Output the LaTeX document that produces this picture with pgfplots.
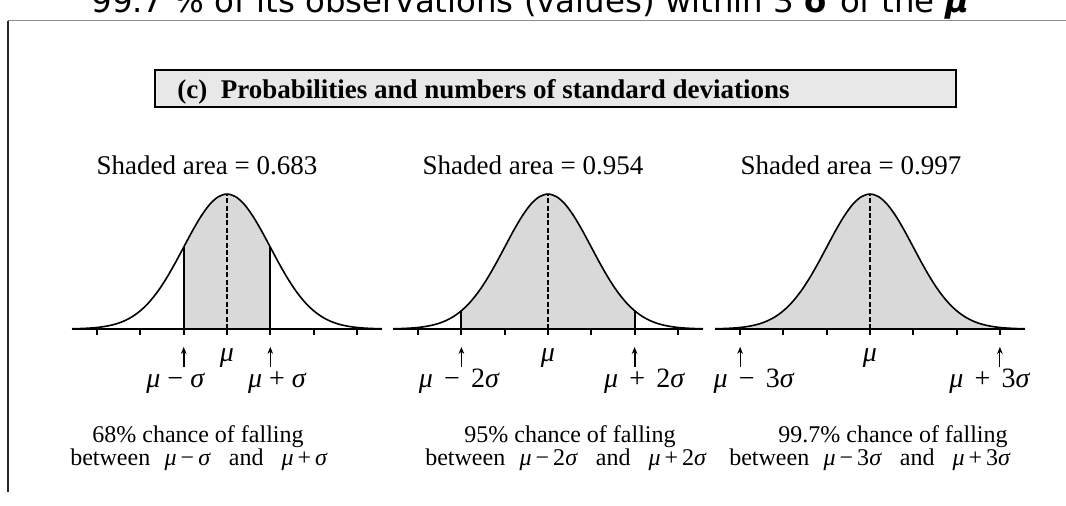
\documentclass[border=0pt]{standalone}
\usepackage{fontspec}
\setmainfont{Liberation Serif}
\newfontfamily\dejavu{DejaVu Sans}
\usepackage{pgfplots}
\pgfplotsset{compat=1.18}
\usepackage{pgfplotstable}
\usetikzlibrary{arrows.meta}

\pgfplotstableread{
x y
-3.58 0.00066
-3.4 0.00123
-3.2 0.00238
-3.0 0.00443
-2.8 0.00792
-2.6 0.01358
-2.4 0.02239
-2.2 0.03547
-2.0 0.05399
-1.8 0.07895
-1.6 0.11092
-1.4 0.14973
-1.2 0.19419
-1.0 0.24197
-0.8 0.28969
-0.6 0.33322
-0.4 0.36827
-0.2 0.39104
0.0 0.39894
0.2 0.39104
0.4 0.36827
0.6 0.33322
0.8 0.28969
1.0 0.24197
1.2 0.19419
1.4 0.14973
1.6 0.11092
1.8 0.07895
2.0 0.05399
2.2 0.03547
2.4 0.02239
2.6 0.01358
2.8 0.00792
3.0 0.00443
3.2 0.00238
3.4 0.00123
3.58 0.00066
}\normaltable

% #1 left x (pt), #2 k, #3 density at k, #4 left arrow width, #5 right arrow width,
% #6 left label, #7 right label, #8 left label shift, #9 right label shift
\newcommand{\normalpanel}[9]{%
\begin{axis}[at={(#1,88.5pt)}, anchor=south west, scale only axis,
  width=155pt, height=67.65pt, xmin=-3.58, xmax=3.58, ymin=0, ymax=0.4,
  axis x line=bottom, axis y line=none, axis line style={-, line width=1pt},
  xtick={-3,-2,-1,0,1,2,3}, xticklabels={}, tick align=outside,
  major tick length=3pt, tick style={line width=1pt, black},
  clip=false, axis on top]
\addplot[fill=gray!30, draw=none, smooth, restrict x to domain=-#2.01:#2.01] table {\normaltable} \closedcycle;
\addplot[smooth, line width=0.8pt] table {\normaltable};
\addplot[line width=1pt] coordinates {(-#2,0) (-#2,#3)};
\addplot[line width=1pt] coordinates {(#2,0) (#2,#3)};
\addplot[line width=1pt, dash pattern=on 2.5pt off 1.2pt] coordinates {(0,0) (0,0.39894)};
\addplot[line width=#4, -{Stealth[length=3.5pt,width=2.8pt]}] coordinates {(-#2,-0.113) (-#2,-0.053)};
\addplot[line width=#5, -{Stealth[length=3.5pt,width=2.8pt]}] coordinates {(#2,-0.113) (#2,-0.053)};
\node[anchor=base, font=\fontsize{14}{16}\selectfont] at (axis cs:0,-0.097) {\textit{μ}};
\node[anchor=base, xshift=#8, font=\fontsize{14}{16}\selectfont] at (axis cs:-#2,-0.1744) {#6};
\node[anchor=base, xshift=#9, font=\fontsize{14}{16}\selectfont] at (axis cs:#2,-0.1744) {#7};
\end{axis}}

\newcommand{\mi}[1]{\textit{#1}}

\begin{document}
\begin{tikzpicture}[x=0.5pt,y=0.5pt]
% frame
\draw[black!45, line width=0.5pt] (8,485) -- (1066,485);
\draw[black!85, line width=0.8pt] (8,485) -- (8,14);
% cut-off slide title
\node[anchor=base west, inner sep=0pt, font=\dejavu\fontsize{16.2}{19}\selectfont] at (91,493)
  {99.7 \% of its observations (values) within 3 \textbf{σ} of the \textbf{\textit{μ}}};
% title box
\draw[line width=1pt, fill=black!9] (155,436) rectangle (956,399);
\node[anchor=base west, inner sep=0pt, font=\bfseries\fontsize{13.5}{16}\selectfont] at (177,407)
  {(c)\hspace{0.5em}Probabilities and numbers of standard deviations};
% shaded area labels
\node[anchor=base, font=\fontsize{13.5}{16}\selectfont] at (207,331) {Shaded area = 0.683};
\node[anchor=base, font=\fontsize{13.5}{16}\selectfont] at (533,331) {Shaded area = 0.954};
\node[anchor=base, font=\fontsize{13.5}{16}\selectfont] at (851,331) {Shaded area = 0.997};
% panels
\normalpanel{36pt}{1}{0.24197}{1pt}{0.4pt}{\mi{μ} − \mi{σ}}{\mi{μ} + \mi{σ}}{-4pt}{3.5pt}
\normalpanel{196.5pt}{2}{0.05399}{0.4pt}{1pt}{\mi{μ}\hspace{0.4em}−\hspace{0.4em}2\mi{σ}}{\mi{μ}\hspace{0.4em}+\hspace{0.4em}2\mi{σ}}{-1pt}{5pt}
\normalpanel{357.5pt}{3}{0.00443}{0.4pt}{0.4pt}{\mi{μ}\hspace{0.4em}−\hspace{0.4em}3\mi{σ}}{\mi{μ}\hspace{0.4em}+\hspace{0.4em}3\mi{σ}}{7pt}{-5pt}
% bottom texts
\begin{scope}[every node/.style={anchor=base, font=\fontsize{12}{14}\selectfont, inner sep=0pt}]
\node at (198,63) {68\% chance of falling};
\node at (199,40) {between\hspace{0.6em}\mi{μ}\,−\,\mi{σ}\hspace{0.75em}and\hspace{0.75em}\mi{μ}\,+\,\mi{σ}};
\node at (570,63) {95\% chance of falling};
\node at (566,40) {between\hspace{0.6em}\mi{μ}\,−\,2\mi{σ}\hspace{0.75em}and\hspace{0.75em}\mi{μ}\,+\,2\mi{σ}};
\node at (893,63) {99.7\% chance of falling};
\node at (870,40) {between\hspace{0.6em}\mi{μ}\,−\,3\mi{σ}\hspace{0.75em}and\hspace{0.75em}\mi{μ}\,+\,3\mi{σ}};
\end{scope}
\pgfresetboundingbox
\useasboundingbox (0,0) rectangle (1066,506);
\end{tikzpicture}
\end{document}
